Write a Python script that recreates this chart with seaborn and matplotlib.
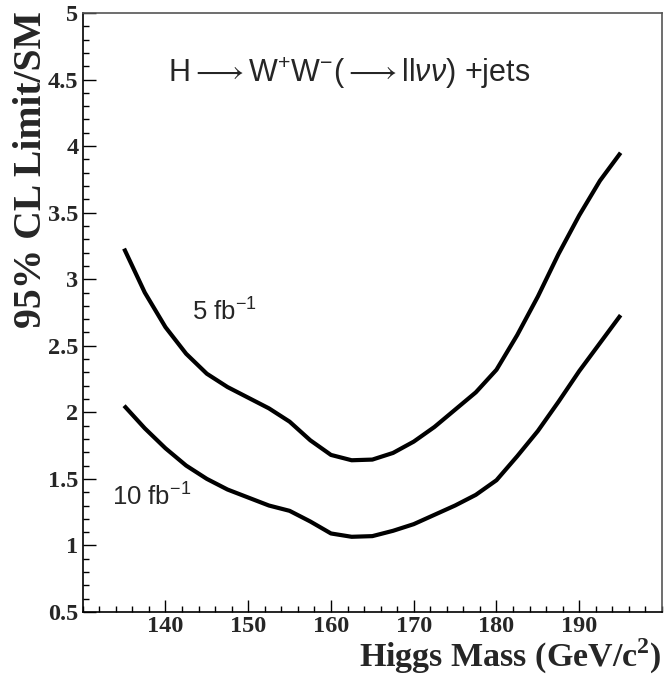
import matplotlib
matplotlib.use("Agg")
import matplotlib.pyplot as plt
from matplotlib.ticker import MultipleLocator, FixedLocator
import seaborn as sns
import pandas as pd

# ---- data ----
mass = [135, 137.5, 140, 142.5, 145, 147.5, 150, 152.5, 155, 157.5, 160, 162.5,
        165, 167.5, 170, 172.5, 175, 177.5, 180, 182.5, 185, 187.5, 190, 192.5, 195]
limit_5fb = [3.23, 2.90, 2.64, 2.44, 2.29, 2.19, 2.11, 2.03, 1.93, 1.79, 1.68, 1.64,
             1.645, 1.695, 1.78, 1.89, 2.02, 2.15, 2.32, 2.58, 2.87, 3.19, 3.48, 3.74, 3.95]
limit_10fb = [2.05, 1.88, 1.73, 1.60, 1.50, 1.42, 1.36, 1.30, 1.26, 1.18, 1.09, 1.065,
              1.07, 1.11, 1.16, 1.23, 1.30, 1.38, 1.49, 1.67, 1.86, 2.08, 2.31, 2.52, 2.73]
series_labels = ["5 fb$^{-1}$", "10 fb$^{-1}$"]
x_ticks = [140, 150, 160, 170, 180, 190]
y_ticks = [0.5, 1, 1.5, 2, 2.5, 3, 3.5, 4, 4.5, 5]
y_ticklabels = ["0.5", "1", "1.5", "2", "2.5", "3", "3.5", "4", "4.5", "5"]
title_text = r"H$\longrightarrow$W$^{+}$W$^{-}$($\longrightarrow$ll$\nu\nu$) +jets"
xlabel = r"Higgs Mass (GeV/c$^{\mathbf{2}}$)"
ylabel = "95% CL Limit/SM"

df = pd.DataFrame({
    "mass": mass * 2,
    "limit": limit_5fb + limit_10fb,
    "lumi": [series_labels[0]] * len(mass) + [series_labels[1]] * len(mass),
})

sns.set_style("ticks")
plt.rcParams["font.family"] = ["Liberation Sans", "DejaVu Sans"]
plt.rcParams["mathtext.fontset"] = "custom"
plt.rcParams["mathtext.rm"] = "Liberation Sans"
plt.rcParams["mathtext.it"] = "Liberation Sans:italic"
plt.rcParams["mathtext.bf"] = "Liberation Serif:bold"

fig = plt.figure(figsize=(6.64, 6.77), dpi=100)
ax = fig.add_axes([82.7 / 664, 1 - 612 / 677, (662 - 82.7) / 664, (612 - 13) / 677])

sns.lineplot(data=df, x="mass", y="limit", hue="lumi", palette=["black", "black"],
             linewidth=3, legend=False, ax=ax, sort=False)
for ln in ax.lines:
    ln.set_solid_joinstyle("round")
    ln.set_solid_capstyle("butt")

ax.set_xlim(130, 200)
ax.set_ylim(0.5, 5)
ax.xaxis.set_major_locator(FixedLocator(x_ticks))
ax.xaxis.set_minor_locator(MultipleLocator(2))
ax.yaxis.set_major_locator(FixedLocator(y_ticks))
ax.yaxis.set_minor_locator(MultipleLocator(0.1))
ax.set_yticklabels(y_ticklabels)
ax.set_xlabel("")
ax.set_ylabel("")

ax.tick_params(which="both", direction="in", top=False, right=False, color="black")
ax.tick_params(which="major", length=9, width=1)
ax.tick_params(which="minor", length=4.5, width=1)
ax.tick_params(axis="x", which="major", pad=3)
ax.tick_params(axis="y", which="major", pad=3)
for lab in ax.get_xticklabels() + ax.get_yticklabels():
    lab.set_fontfamily("Liberation Serif")
    lab.set_fontweight("bold")
    lab.set_fontsize(17.5)
for sp in ax.spines.values():
    sp.set_visible(True)
    sp.set_linewidth(1.2)
    sp.set_color("black")
ax.spines["top"].set_color("#555555")
ax.spines["right"].set_color("#555555")

ax.text(162.2, 4.55, title_text, fontsize=22, ha="center", va="center")
ax.text(143.2, 2.756, series_labels[0], fontsize=18.5, ha="left", va="center")
ax.text(133.5, 1.366, series_labels[1], fontsize=18.5, ha="left", va="center")

fig.text(13 / 664, 1 - 11 / 677, ylabel, rotation=90, ha="left", va="top",
         fontfamily="Liberation Serif", fontweight="bold", fontsize=28.5)
fig.text(661 / 664, 1 - 666 / 677, xlabel, ha="right", va="baseline",
         fontfamily="Liberation Serif", fontweight="bold", fontsize=24.5)

fig.savefig("out.png", dpi=100, facecolor="white")
